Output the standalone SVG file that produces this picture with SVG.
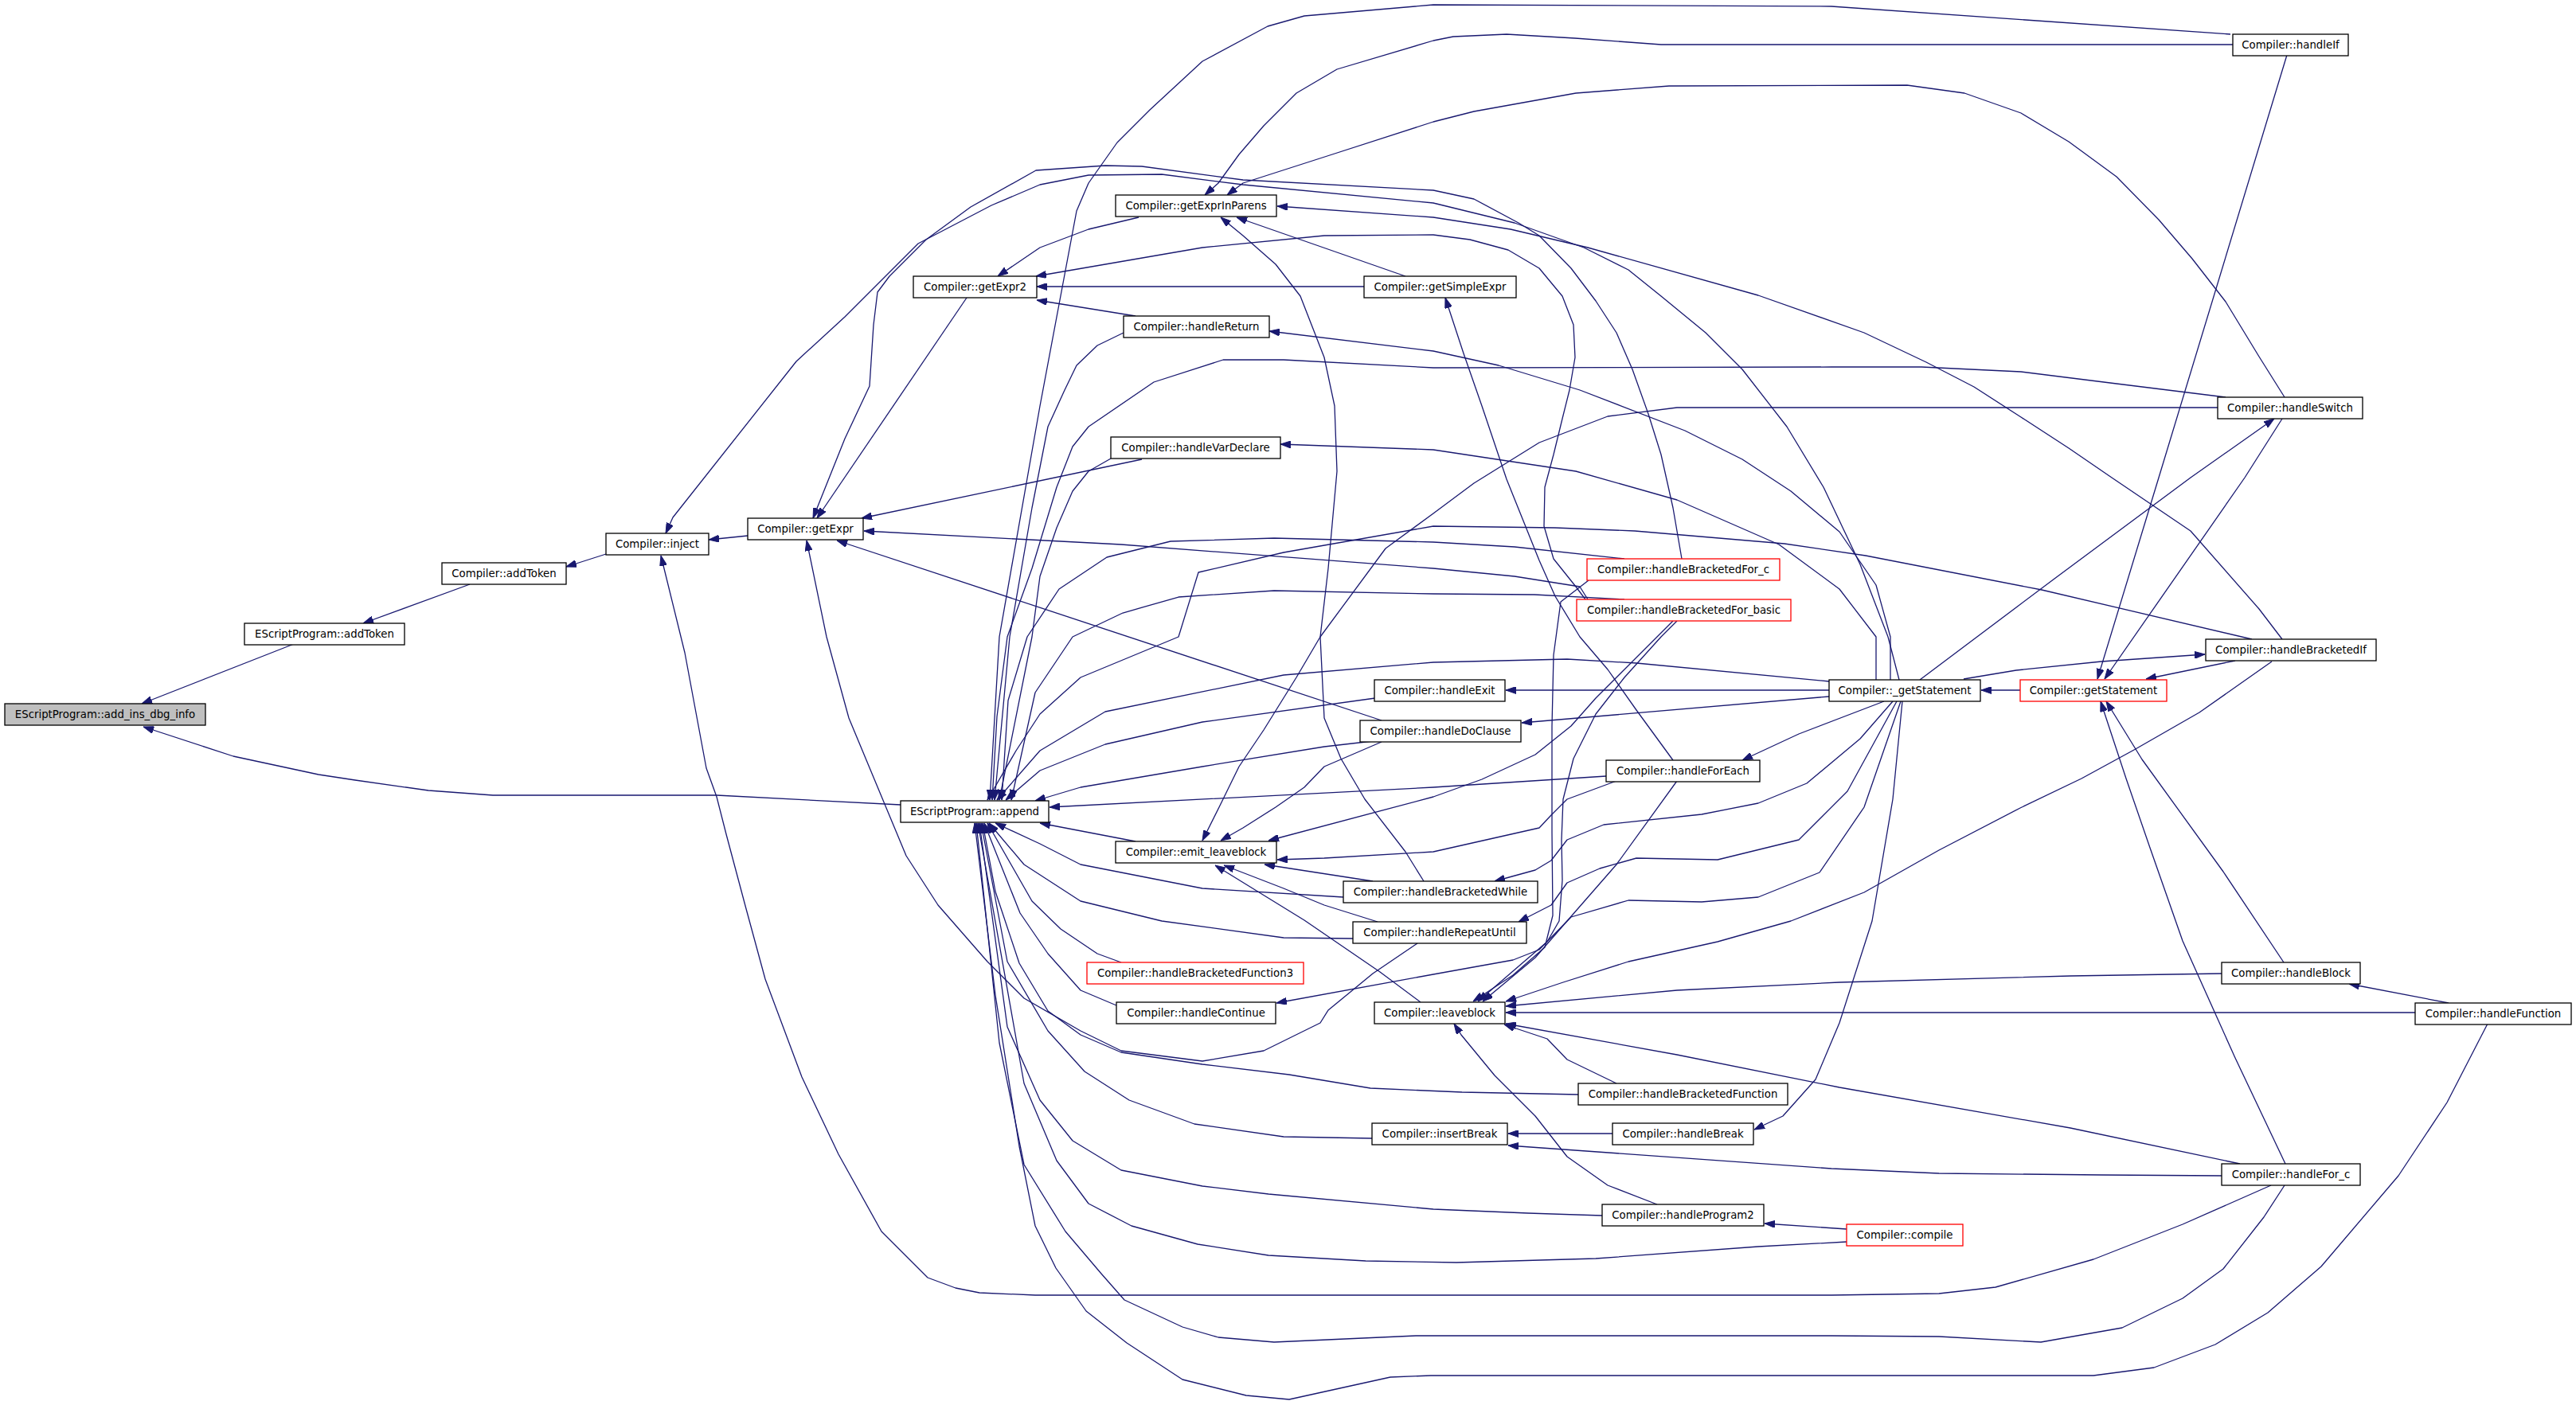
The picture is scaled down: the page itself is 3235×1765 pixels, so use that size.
<svg xmlns="http://www.w3.org/2000/svg" width="3235" height="1765" viewBox="0 0 3235 1765">
<style>
.nd rect{fill:#ffffff;stroke:#000000;stroke-width:1.3}
.nd.red rect{stroke:#ff0000}
.nd.cur rect{fill:#bfbfbf}
.nd text{font-family:"DejaVu Sans","Liberation Sans",sans-serif;font-size:13.3px;fill:#000000;text-anchor:middle}
.e{fill:none;stroke:#191970;stroke-width:1.3;stroke-linejoin:round;marker-end:url(#ah)}
</style>
<defs>
<marker id="ah" markerWidth="13" markerHeight="9" refX="13" refY="4.5" orient="auto" markerUnits="userSpaceOnUse"><path d="M0,0 L13,4.5 L0,9 z" fill="#191970" stroke="#191970" stroke-width="1"/></marker>
</defs>
<rect width="3235" height="1765" fill="#ffffff"/>
<g id="edges">
<path class="e" d="M369,809 L178,884"/>
<path class="e" d="M1131,1011 L900,999 L619,999 L538,993 L446,980 L400,973 L293,950 L180,913"/>
<path class="e" d="M590,734 L456,783"/>
<path class="e" d="M761,696 L711,712"/>
<path class="e" d="M939,673 L890,678"/>
<path class="e" d="M2385,854 L2371,800 L2336,709 L2290,612 L2244,536 L2188,464 L2142,418 L2086,372 L2045,339 L1989,311 L1902,280 L1800,255 L1561,232 L1459,219 L1367,220 L1306,232 L1245,258 L1153,306 L1061,398 L1000,454 L845,650 L836,670"/>
<path class="e" d="M2112,702 L2101,638 L2086,571 L2070,520 L2050,464 L2030,418 L2004,378 L1973,337 L1933,296 L1907,280 L1851,250 L1800,239 L1561,226 L1434,209 L1388,208 L1301,214 L1219,260 L1163,301 L1117,347 L1102,367 L1097,408 L1092,485 L1061,551 L1021,651"/>
<path class="e" d="M2852,1489 L2741,1538 L2629,1582 L2506,1617 L2435,1625 L2300,1627 L1300,1627 L1230,1624 L1200,1618 L1165,1605 L1107,1547 L1053,1450 L1007,1353 L961,1230 L936,1138 L912,1048 L900,1001 L887,965 L860,820 L830,698"/>
<path class="e" d="M1214,374 L1026,651"/>
<path class="e" d="M1434,577 L1082,651"/>
<path class="e" d="M1994,753 L1984,737 L1902,724 L1800,714 L1408,684 L1085,667"/>
<path class="e" d="M1780,1185 L1724,1223 L1668,1269 L1658,1285 L1587,1320 L1510,1333 L1408,1320 L1357,1295 L1286,1254 L1240,1208 L1178,1137 L1138,1075 L1066,902 L1038,800 L1013,679"/>
<path class="e" d="M1735,905 L1051,679"/>
<path class="e" d="M1430,273 L1367,288 L1306,311 L1253,347"/>
<path class="e" d="M1991,753 L1979,737 L1951,702 L1939,661 L1940,612 L1951,571 L1962,526 L1971,490 L1978,449 L1976,408 L1962,372 L1933,337 L1894,314 L1846,301 L1800,295 L1663,296 L1510,311 L1301,347"/>
<path class="e" d="M1713,360 L1302,360"/>
<path class="e" d="M1426,397 L1302,377"/>
<path class="e" d="M2804,56 L2300,56 L2086,56 L1978,48 L1892,43 L1825,46 L1800,51 L1679,87 L1628,117 L1587,158 L1556,194 L1530,230 L1513,245"/>
<path class="e" d="M2869,499 L2837,448 L2795,379 L2753,325 L2711,276 L2658,222 L2598,178 L2538,142 L2467,117 L2395,107 L2096,108 L1979,117 L1851,140 L1800,153 L1673,194 L1561,230 L1541,245"/>
<path class="e" d="M2866,803 L2837,765 L2751,667 L2652,600 L2598,563 L2538,524 L2479,486 L2419,455 L2341,418 L2208,371 L1994,311 L1897,288 L1800,273 L1604,259"/>
<path class="e" d="M1788,1107 L1765,1070 L1714,1004 L1684,953 L1663,902 L1658,800 L1668,714 L1679,592 L1676,510 L1663,449 L1633,372 L1602,332 L1561,296 L1533,273"/>
<path class="e" d="M1765,347 L1553,273"/>
<path class="e" d="M2101,955 L2055,892 L2019,841 L1984,800 L1953,749 L1933,704 L1892,602 L1861,510 L1838,444 L1815,374"/>
<path class="e" d="M2297,867 L1891,867"/>
<path class="e" d="M2297,875 L1911,908"/>
<path class="e" d="M2366,881 L2259,922 L2188,955"/>
<path class="e" d="M2377,881 L2336,928 L2269,984 L2208,1009 L2137,1023 L2014,1036 L1968,1055 L1948,1081 L1928,1093 L1877,1107"/>
<path class="e" d="M2382,881 L2320,994 L2259,1055 L2157,1080 L2055,1078 L2009,1091 L1968,1109 L1948,1137 L1907,1158"/>
<path class="e" d="M2387,881 L2341,1014 L2285,1096 L2208,1127 L2137,1133 L2045,1131 L1973,1152 L1933,1193 L1900,1206 L1861,1213 L1800,1224 L1603,1260"/>
<path class="e" d="M2389,881 L2377,1004 L2351,1157 L2310,1285 L2280,1356 L2239,1402 L2203,1419"/>
<path class="e" d="M2356,854 L2356,800 L2310,740 L2234,684 L2106,628 L1979,592 L1800,565 L1608,558"/>
<path class="e" d="M2374,854 L2374,800 L2356,735 L2310,668 L2249,617 L2188,577 L2116,541 L1984,490 L1882,459 L1800,441 L1594,416"/>
<path class="e" d="M2297,856 L2055,833 L1968,828 L1800,832 L1612,848 L1388,894 L1306,943 L1252,1005"/>
<path class="e" d="M2411,854 L2580,727 L2751,600 L2856,526"/>
<path class="e" d="M2466,853 L2532,842 L2639,831 L2769,822"/>
<path class="e" d="M2537,867 L2488,867"/>
<path class="e" d="M2872,69 L2711,600 L2634,853"/>
<path class="e" d="M2866,526 L2819,600 L2643,853"/>
<path class="e" d="M2807,830 L2695,853"/>
<path class="e" d="M2868,1209 L2792,1095 L2690,954 L2645,881"/>
<path class="e" d="M2870,1462 L2807,1329 L2741,1182 L2700,1065 L2670,978 L2638,881"/>
<path class="e" d="M2853,831 L2762,895 L2680,942 L2614,978 L2537,1015 L2435,1068 L2341,1121 L2249,1157 L2157,1183 L2045,1208 L1963,1234 L1891,1258"/>
<path class="e" d="M2828,803 L2564,741 L2343,698 L2241,683 L2053,667 L1953,663 L1800,661 L1612,694 L1505,719 L1480,800 L1357,851 L1306,897 L1276,943 L1240,1005"/>
<path class="e" d="M2795,499 L2658,482 L2538,467 L2413,461 L2300,461 L1800,462 L1612,452 L1536,452 L1449,480 L1367,536 L1347,561 L1327,612 L1296,714 L1265,800 L1252,900 L1246,1005"/>
<path class="e" d="M2785,512 L2300,512 L2106,512 L2019,523 L1933,556 L1851,607 L1800,645 L1740,689 L1658,800 L1628,851 L1587,917 L1556,963 L1531,1014 L1510,1056"/>
<path class="e" d="M2801,43 L2300,8 L1800,6 L1638,20 L1592,33 L1510,77 L1444,138 L1403,179 L1367,230 L1352,265 L1306,510 L1255,800 L1243,1005"/>
<path class="e" d="M1411,418 L1378,434 L1352,459 L1337,490 L1316,536 L1296,638 L1268,800 L1249,1005"/>
<path class="e" d="M1395,576 L1367,592 L1347,617 L1327,663 L1306,724 L1296,800 L1255,1005"/>
<path class="e" d="M2040,702 L1902,687 L1800,681 L1600,676 L1470,680 L1390,700 L1330,740 L1290,800 L1266,880 L1258,1005"/>
<path class="e" d="M2040,753 L1927,747 L1800,746 L1600,742 L1480,750 L1410,770 L1347,800 L1300,870 L1270,1005"/>
<path class="e" d="M1727,877 L1510,907 L1388,935 L1306,968 L1263,1005"/>
<path class="e" d="M1724,931 L1663,938 L1510,963 L1357,989 L1300,1006"/>
<path class="e" d="M2017,975 L1800,989 L1318,1014"/>
<path class="e" d="M1426,1057 L1306,1034"/>
<path class="e" d="M1687,1127 L1510,1116 L1357,1086 L1306,1060 L1250,1034"/>
<path class="e" d="M1699,1179 L1612,1178 L1459,1157 L1357,1132 L1286,1086 L1242,1034"/>
<path class="e" d="M1408,1209 L1378,1198 L1332,1167 L1296,1132 L1240,1034"/>
<path class="e" d="M1402,1263 L1357,1244 L1316,1198 L1281,1147 L1236,1034"/>
<path class="e" d="M1982,1375 L1836,1372 L1721,1367 L1619,1350 L1510,1337 L1408,1322 L1357,1300 L1316,1270 L1280,1210 L1250,1120 L1234,1034"/>
<path class="e" d="M1723,1430 L1612,1428 L1500,1412 L1418,1382 L1362,1346 L1316,1295 L1265,1208 L1232,1034"/>
<path class="e" d="M2012,1527 L1919,1524 L1800,1519 L1593,1500 L1510,1490 L1408,1470 L1347,1433 L1306,1382 L1265,1290 L1230,1034"/>
<path class="e" d="M2319,1560 L2208,1566 L2004,1581 L1829,1586 L1715,1584 L1593,1577 L1504,1563 L1421,1540 L1367,1512 L1327,1458 L1286,1361 L1228,1034"/>
<path class="e" d="M2869,1489 L2843,1529 L2792,1594 L2741,1631 L2665,1668 L2563,1686 L2435,1679 L2300,1678 L1778,1678 L1600,1686 L1530,1680 L1485,1667 L1412,1633 L1383,1600 L1338,1547 L1286,1463 L1255,1310 L1226,1034"/>
<path class="e" d="M3124,1286 L3073,1385 L3012,1477 L2915,1591 L2848,1649 L2782,1689 L2705,1718 L2629,1728 L2435,1728 L1797,1728 L1746,1730 L1619,1758 L1565,1753 L1485,1733 L1415,1687 L1364,1647 L1326,1593 L1300,1540 L1280,1440 L1250,1250 L1224,1034"/>
<path class="e" d="M1735,932 L1663,963 L1638,989 L1602,1014 L1561,1040 L1533,1056"/>
<path class="e" d="M2101,780 L2081,800 L2040,841 L2004,877 L1973,912 L1928,948 L1861,979 L1800,1001 L1593,1056"/>
<path class="e" d="M2106,780 L2086,800 L2040,851 L2004,897 L1976,953 L1963,1004 L1961,1055 L1962,1106 L1958,1157 L1943,1183 L1900,1220 L1856,1258"/>
<path class="e" d="M2030,981 L1968,1004 L1948,1024 L1933,1040 L1800,1070 L1663,1078 L1604,1080"/>
<path class="e" d="M2106,981 L2030,1086 L1968,1157 L1928,1203 L1862,1258"/>
<path class="e" d="M1724,1107 L1588,1086"/>
<path class="e" d="M1730,1158 L1663,1137 L1612,1116 L1537,1087"/>
<path class="e" d="M1784,1259 L1733,1221 L1638,1156 L1526,1087"/>
<path class="e" d="M1995,729 L1960,756 L1951,823 L1949,912 L1949,1046 L1950,1150 L1940,1190 L1900,1225 L1850,1258"/>
<path class="e" d="M2790,1223 L2600,1226 L2310,1234 L2106,1244 L1891,1264"/>
<path class="e" d="M3033,1272 L1891,1272"/>
<path class="e" d="M2813,1462 L2600,1417 L2310,1366 L2106,1325 L1891,1286"/>
<path class="e" d="M2030,1361 L1968,1331 L1943,1305 L1889,1287"/>
<path class="e" d="M2081,1513 L2019,1489 L1968,1453 L1928,1402 L1877,1351 L1835,1300 L1826,1286"/>
<path class="e" d="M2025,1424 L1894,1424"/>
<path class="e" d="M2790,1477 L2640,1476 L2435,1474 L2300,1468 L1894,1439"/>
<path class="e" d="M2319,1544 L2216,1537"/>
<path class="e" d="M3075,1260 L2950,1236"/>
</g>
<g id="n_add_ins_dbg_info" class="nd cur"><rect x="6" y="884" width="252" height="27"/><text x="132" y="902">EScriptProgram::add_ins_dbg_info</text></g>
<g id="n_esp_addToken" class="nd"><rect x="307" y="783" width="201" height="27"/><text x="407.5" y="801">EScriptProgram::addToken</text></g>
<g id="n_c_addToken" class="nd"><rect x="555" y="707" width="156" height="27"/><text x="633" y="725">Compiler::addToken</text></g>
<g id="n_inject" class="nd"><rect x="761" y="670" width="129" height="27"/><text x="825.5" y="688">Compiler::inject</text></g>
<g id="n_getExpr" class="nd"><rect x="939" y="651" width="145" height="27"/><text x="1011.5" y="669">Compiler::getExpr</text></g>
<g id="n_getExpr2" class="nd"><rect x="1147" y="347" width="155" height="27"/><text x="1224.5" y="365">Compiler::getExpr2</text></g>
<g id="n_getExprInParens" class="nd"><rect x="1401" y="245" width="202" height="27"/><text x="1502" y="263">Compiler::getExprInParens</text></g>
<g id="n_getSimpleExpr" class="nd"><rect x="1713" y="347" width="191" height="27"/><text x="1808.5" y="365">Compiler::getSimpleExpr</text></g>
<g id="n_handleReturn" class="nd"><rect x="1411" y="397" width="183" height="27"/><text x="1502.5" y="415">Compiler::handleReturn</text></g>
<g id="n_handleVarDeclare" class="nd"><rect x="1395" y="549" width="213" height="27"/><text x="1501.5" y="567">Compiler::handleVarDeclare</text></g>
<g id="n_append" class="nd"><rect x="1131" y="1006" width="186" height="27"/><text x="1224" y="1024">EScriptProgram::append</text></g>
<g id="n_handleExit" class="nd"><rect x="1726" y="854" width="164" height="27"/><text x="1808" y="872">Compiler::handleExit</text></g>
<g id="n_handleDoClause" class="nd"><rect x="1708" y="905" width="202" height="27"/><text x="1809" y="923">Compiler::handleDoClause</text></g>
<g id="n_emit_leaveblock" class="nd"><rect x="1401" y="1057" width="202" height="27"/><text x="1502" y="1075">Compiler::emit_leaveblock</text></g>
<g id="n_handleBracketedWhile" class="nd"><rect x="1687" y="1107" width="244" height="27"/><text x="1809" y="1125">Compiler::handleBracketedWhile</text></g>
<g id="n_handleRepeatUntil" class="nd"><rect x="1699" y="1158" width="218" height="27"/><text x="1808" y="1176">Compiler::handleRepeatUntil</text></g>
<g id="n_handleBracketedFunction3" class="nd red"><rect x="1365" y="1209" width="272" height="27"/><text x="1501" y="1227">Compiler::handleBracketedFunction3</text></g>
<g id="n_handleContinue" class="nd"><rect x="1402" y="1259" width="200" height="27"/><text x="1502" y="1277">Compiler::handleContinue</text></g>
<g id="n_leaveblock" class="nd"><rect x="1726" y="1259" width="164" height="27"/><text x="1808" y="1277">Compiler::leaveblock</text></g>
<g id="n_handleBracketedFunction" class="nd"><rect x="1982" y="1361" width="263" height="27"/><text x="2113.5" y="1379">Compiler::handleBracketedFunction</text></g>
<g id="n_insertBreak" class="nd"><rect x="1723" y="1411" width="170" height="27"/><text x="1808" y="1429">Compiler::insertBreak</text></g>
<g id="n_handleBreak" class="nd"><rect x="2025" y="1411" width="177" height="27"/><text x="2113.5" y="1429">Compiler::handleBreak</text></g>
<g id="n_handleProgram2" class="nd"><rect x="2012" y="1513" width="203" height="27"/><text x="2113.5" y="1531">Compiler::handleProgram2</text></g>
<g id="n_compile" class="nd red"><rect x="2319" y="1538" width="146" height="27"/><text x="2392" y="1556">Compiler::compile</text></g>
<g id="n_handleBracketedFor_c" class="nd red"><rect x="1993" y="702" width="242" height="27"/><text x="2114" y="720">Compiler::handleBracketedFor_c</text></g>
<g id="n_handleBracketedFor_basic" class="nd red"><rect x="1980" y="753" width="269" height="27"/><text x="2114.5" y="771">Compiler::handleBracketedFor_basic</text></g>
<g id="n__getStatement" class="nd"><rect x="2297" y="854" width="190" height="27"/><text x="2392" y="872">Compiler::_getStatement</text></g>
<g id="n_getStatement" class="nd red"><rect x="2537" y="854" width="184" height="27"/><text x="2629" y="872">Compiler::getStatement</text></g>
<g id="n_handleBracketedIf" class="nd"><rect x="2770" y="803" width="214" height="27"/><text x="2877" y="821">Compiler::handleBracketedIf</text></g>
<g id="n_handleForEach" class="nd"><rect x="2017" y="955" width="193" height="27"/><text x="2113.5" y="973">Compiler::handleForEach</text></g>
<g id="n_handleBlock" class="nd"><rect x="2790" y="1209" width="174" height="27"/><text x="2877" y="1227">Compiler::handleBlock</text></g>
<g id="n_handleFunction" class="nd"><rect x="3033" y="1260" width="196" height="27"/><text x="3131" y="1278">Compiler::handleFunction</text></g>
<g id="n_handleIf" class="nd"><rect x="2804" y="43" width="145" height="27"/><text x="2876.5" y="61">Compiler::handleIf</text></g>
<g id="n_handleSwitch" class="nd"><rect x="2785" y="499" width="182" height="27"/><text x="2876" y="517">Compiler::handleSwitch</text></g>
<g id="n_handleFor_c" class="nd"><rect x="2790" y="1462" width="174" height="27"/><text x="2877" y="1480">Compiler::handleFor_c</text></g>
</svg>
